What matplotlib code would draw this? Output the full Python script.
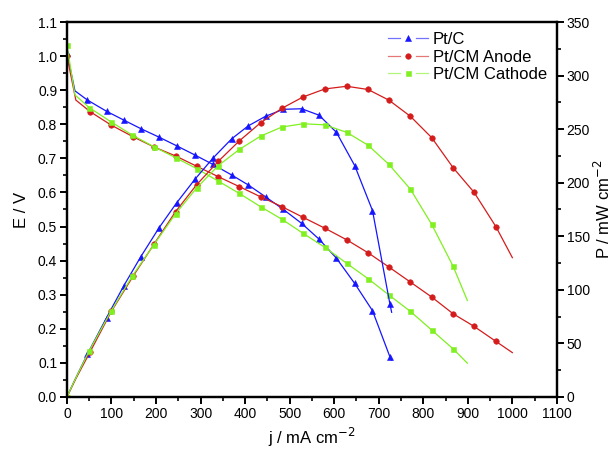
import matplotlib
matplotlib.use("Agg")
import matplotlib.pyplot as plt
from matplotlib.lines import Line2D
from matplotlib.legend_handler import HandlerBase
from matplotlib.ticker import MultipleLocator

plt.rcParams['font.family'] = ['Liberation Sans', 'DejaVu Sans']

# Pt/C  (line points; knee and tail carry no marker)
j_ptc = [0, 18, 46, 89, 128, 166, 207, 246, 287, 328, 370, 407, 446, 486, 527, 566, 605, 646, 686, 725, 729]
E_ptc = [1.010, 0.898, 0.871, 0.838, 0.812, 0.787, 0.762, 0.737, 0.710, 0.682, 0.651, 0.622, 0.587,
         0.550, 0.509, 0.463, 0.407, 0.333, 0.253, 0.118, 0.108]
P_ptc = [0, 16, 40, 74, 104, 131, 158, 181, 203, 223, 241, 253, 262, 268.5, 269, 263, 247, 216, 174, 87, 79]
mk_ptc = [0] + list(range(2, 20))

# Pt/CM Anode
j_an = [0, 20, 52, 100, 149, 196, 244, 291, 340, 387, 435, 483, 530, 579, 628, 676, 723, 771, 819, 867, 914, 963, 1000]
E_an = [1.000, 0.871, 0.837, 0.797, 0.763, 0.733, 0.707, 0.677, 0.646, 0.617, 0.587, 0.558, 0.527,
        0.495, 0.461, 0.423, 0.381, 0.337, 0.293, 0.244, 0.207, 0.163, 0.130]
P_an = [0, 17, 42, 80, 113, 143, 173, 198, 220, 239, 256, 269.5, 280, 287.5, 290, 287, 277, 262, 242,
        214, 191, 159, 130]
mk_an = [0] + list(range(2, 22))

# Pt/CM Cathode
j_ca = [0, 18, 50, 99, 147, 195, 244, 291, 340, 387, 435, 483, 530, 579, 628, 676, 723, 771, 819, 867, 899]
E_ca = [1.032, 0.886, 0.849, 0.807, 0.768, 0.734, 0.702, 0.670, 0.633, 0.597, 0.558, 0.521, 0.480,
        0.439, 0.392, 0.347, 0.299, 0.251, 0.196, 0.141, 0.099]
P_ca = [0, 16, 43, 80, 113, 142, 171, 195, 216, 231, 243.5, 252, 255, 254, 247, 235, 217, 194, 161, 122, 90]
mk_ca = [0] + list(range(2, 20))

c_blue = '#1515ff'
c_red = '#d41c1c'
c_green = '#80f020'


class BrokenLineHandler(HandlerBase):
    # legend key like Origin's: line, gap with marker, line
    def create_artists(self, legend, orig_handle, xdescent, ydescent, width, height, fontsize, trans):
        y = height / 2 - ydescent
        x0 = -xdescent
        gap = width * 0.2
        col = orig_handle.get_color()
        left = Line2D([x0, x0 + width / 2 - gap], [y, y], color=col, lw=0.9, alpha=0.6)
        right = Line2D([x0 + width / 2 + gap, x0 + width], [y, y], color=col, lw=0.9, alpha=0.6)
        mk = Line2D([x0 + width / 2], [y], color=col, marker=orig_handle.get_marker(),
                    ms=orig_handle.get_markersize(), mew=0.4, linestyle='none')
        for a in (left, right, mk):
            a.set_transform(trans)
        return [left, right, mk]


fig = plt.figure(figsize=(6.14, 4.49), dpi=100)
ax = fig.add_axes([0.109, 0.116, 0.798, 0.835])
ax2 = ax.twinx()

series = [
    (j_ptc, E_ptc, P_ptc, mk_ptc, c_blue, '^', 4.5),
    (j_an, E_an, P_an, mk_an, c_red, 'o', 4.0),
    (j_ca, E_ca, P_ca, mk_ca, c_green, 's', 3.6),
]
handles = []
for jj, ee, pp, mk, col, m, ms in series:
    h, = ax.plot(jj, ee, color=col, lw=0.9, marker=m, ms=ms, mew=0.4, markevery=mk, mec=col, mfc=col)
    ax2.plot(jj, pp, color=col, lw=0.9, marker=m, ms=ms, mew=0.4, markevery=mk, mec=col, mfc=col)
    handles.append(h)

ax.set_xlim(0, 1100)
ax.set_ylim(0, 1.1)
ax2.set_ylim(0, 350)

ax.xaxis.set_major_locator(MultipleLocator(100))
ax.xaxis.set_minor_locator(MultipleLocator(50))
ax.yaxis.set_major_locator(MultipleLocator(0.1))
ax.yaxis.set_minor_locator(MultipleLocator(0.05))
ax2.yaxis.set_major_locator(MultipleLocator(50))
ax2.yaxis.set_minor_locator(MultipleLocator(25))
ax.yaxis.set_major_formatter(plt.FormatStrFormatter('%.1f'))

for a in (ax, ax2):
    for s in a.spines.values():
        s.set_linewidth(1.6)
    a.tick_params(which='major', direction='out', length=5, width=1.4, labelsize=10, pad=2)
    a.tick_params(which='minor', direction='out', length=3, width=1.2)
ax.tick_params(top=False, right=False, which='both')

ax.set_xlabel('j / mA cm$^{-2}$', fontsize=12, labelpad=4)
ax.set_ylabel('E / V', fontsize=12, labelpad=6)
ax2.set_ylabel('P / mW cm$^{-2}$', fontsize=12, labelpad=2)

ax.legend(handles, ['Pt/C', 'Pt/CM Anode', 'Pt/CM Cathode'],
          handler_map={Line2D: BrokenLineHandler()},
          loc='upper right', bbox_to_anchor=(1.0, 1.0), frameon=False, fontsize=12,
          handlelength=2.4, handletextpad=0.3, labelspacing=0.15, borderaxespad=0.2)

fig.savefig('out.png', dpi=100)
